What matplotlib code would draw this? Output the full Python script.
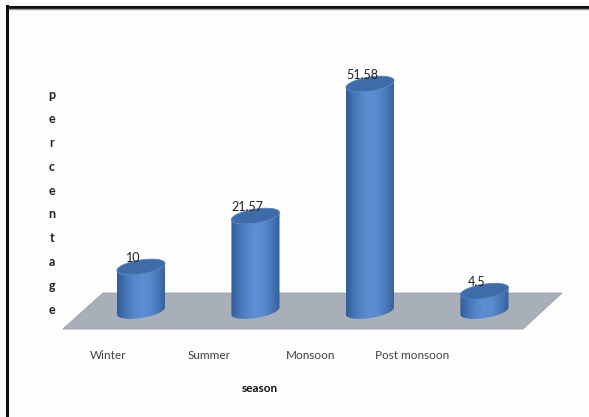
import matplotlib.pyplot as plt
import numpy as np
from matplotlib.path import Path
from matplotlib.patches import PathPatch, Polygon

seasons = ['Winter', 'Summer', 'Monsoon', 'Post monsoon']
percent = [10, 21.57, 51.58, 4.5]

plt.rcParams['font.family'] = ['Lato', 'DejaVu Sans']

fig = plt.figure(figsize=(5.89, 4.17), dpi=100)
fig.patch.set_facecolor('#fdfdfd')
ax = fig.add_axes([0, 0, 1, 1])
ax.set_xlim(-1.231, 3.913)
ax.set_ylim(-24.09, 70.68)
ax.axis('off')

# frame lines along top and left edge
fig.add_artist(plt.Line2D([0.012, 1], [0.983, 0.983], color='#111111', lw=2.2))
fig.add_artist(plt.Line2D([0.012, 1], [0.978, 0.978], color='#9a9a9a', lw=1.0))
fig.add_artist(plt.Line2D([0.0125, 0.0125], [0, 0.985], color='#111111', lw=2.2))

# grey floor in oblique view
floor = Polygon([(-0.681, -4.09), (3.336, -4.09), (3.677, 4.09), (-0.332, 4.09)],
                closed=True, facecolor='#a8afb9', edgecolor='#98a0ab', lw=0.6, zorder=1)
ax.add_patch(floor)

half_w = 0.21   # cylinder radius in x units
rad_y = 1.6     # ellipse half-height in y units
shear = 0.8     # tilt of the ellipses
t = np.linspace(0, np.pi, 60)

# horizontal shading across the cylinder body
shade = np.array([0.05, 0.45, 0.75, 0.9, 0.8, 0.5, 0.1])
pos = np.linspace(0, 1, len(shade))
u = np.linspace(0, 1, 200)
g = np.interp(u, pos, shade)
dark = np.array([0x2e, 0x5a, 0x94]) / 255
light = np.array([0x62, 0x95, 0xdb]) / 255
grad = (dark[None, :] + (light - dark)[None, :] * g[:, None])[None, :, :]

for i, v in enumerate(percent):
    cx = i
    # front half of bottom ellipse, then front half of top ellipse
    bx = cx - half_w * np.cos(t)
    by = -rad_y * np.sin(t) - shear * np.cos(t)
    tx = cx + half_w * np.cos(t)
    ty = v - rad_y * np.sin(t) + shear * np.cos(t)
    body = Path(np.array(list(zip(bx, by)) + [(cx + half_w, v + shear)] +
                         list(zip(tx, ty)) + [(cx - half_w, -shear)]))
    patch = PathPatch(body, facecolor='none', edgecolor='none', zorder=2)
    ax.add_patch(patch)
    im = ax.imshow(grad, extent=(cx - half_w, cx + half_w, -3, v + 3),
                   aspect='auto', zorder=2)
    im.set_clip_path(patch)

    tt = np.linspace(0, 2 * np.pi, 120)
    top = np.column_stack([cx + half_w * np.cos(tt),
                           v + rad_y * np.sin(tt) + shear * np.cos(tt)])
    ax.add_patch(Polygon(top, closed=True, facecolor='#3d6ca8',
                         edgecolor='#5283c2', lw=0.6, zorder=3))

    ax.text(cx - 0.07, v + 2.1, f'{v:g}', ha='center', va='center',
            fontsize=9, color='#222222', zorder=4)

# category labels sit on the front edge of the floor
for i, name in enumerate(seasons):
    ax.text(-0.288 + 0.886 * i, -10.0, name, ha='center', va='center',
            fontsize=8.5, color='#404040')

ax.text(1.04, -17.6, 'season', ha='center', va='center',
        fontsize=8.5, fontweight='bold', color='#111111')

for k, ch in enumerate('percentage'):
    ax.text(-0.777, 49.1 - 5.43 * k, ch, ha='center', va='center',
            fontsize=9, fontweight='bold', color='#222222')

fig.savefig('out.png', dpi=100, facecolor=fig.get_facecolor())
